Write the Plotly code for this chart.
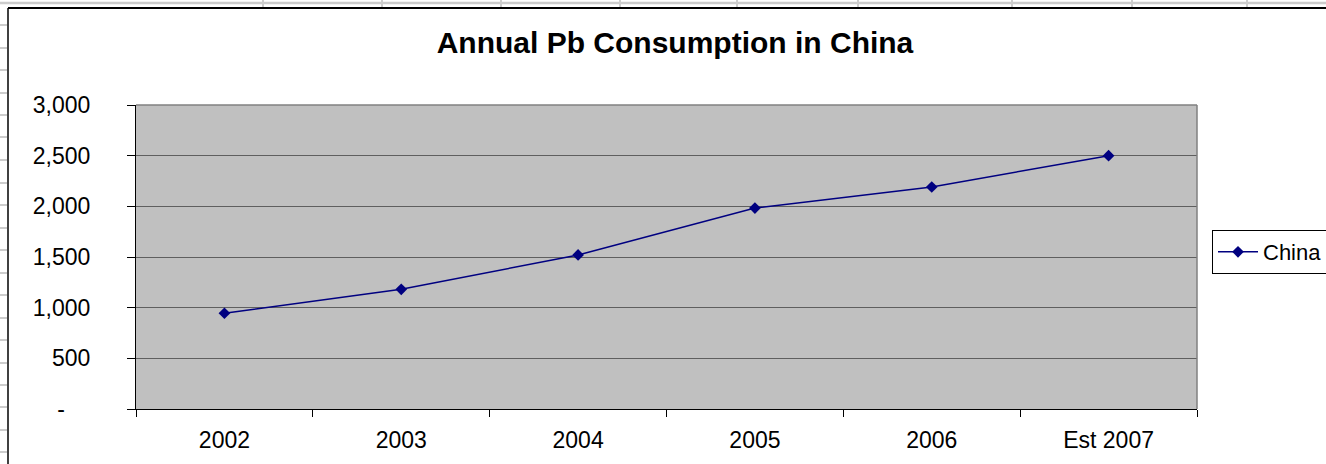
import plotly.graph_objects as go

# ---- data ----
years = ["2002", "2003", "2004", "2005", "2006", "Est 2007"]
china = [945, 1181, 1520, 1983, 2191, 2500]
y_tick_vals = [0, 500, 1000, 1500, 2000, 2500, 3000]
y_tick_text = ["-\u00a0\u00a0\u00a0\u00a0", "500", "1,000", "1,500", "2,000", "2,500", "3,000"]

W, H = 1326, 464
L, R, T, B = 136, 1197, 105, 409  # plot area in pixels


def px(x):
    return (x - L) / (R - L)


def py(y):
    return (B - y) / (B - T)


fig = go.Figure()
fig.add_trace(go.Scatter(
    x=years, y=china, mode="lines+markers", name="China",
    line=dict(color="#000080", width=1.5),
    marker=dict(symbol="diamond", size=9, color="#000080"),
))

shapes = []
grid_col = "#cccccc"
# spreadsheet grid (top strip)
shapes.append(dict(type="line", xref="paper", yref="paper",
                   x0=px(0), x1=px(W), y0=py(3), y1=py(3),
                   line=dict(color=grid_col, width=2.5)))
for xv in [263, 382, 501, 620, 737, 858, 1012, 1132, 1247]:
    shapes.append(dict(type="line", xref="paper", yref="paper",
                       x0=px(xv), x1=px(xv), y0=py(0), y1=py(7),
                       line=dict(color=grid_col, width=2)))
# spreadsheet grid (left strip)
for yv in [25, 48, 70, 93, 115, 137, 160, 183, 205, 228, 250, 273, 295,
           318, 340, 363, 385, 407, 430, 452]:
    shapes.append(dict(type="line", xref="paper", yref="paper",
                       x0=px(0), x1=px(7), y0=py(yv), y1=py(yv),
                       line=dict(color=grid_col, width=2)))
# chart area border
shapes.append(dict(type="line", xref="paper", yref="paper",
                   x0=px(8), x1=px(W), y0=py(8), y1=py(8),
                   line=dict(color="black", width=2)))
shapes.append(dict(type="line", xref="paper", yref="paper",
                   x0=px(8), x1=px(8), y0=py(8), y1=py(H),
                   line=dict(color="black", width=1.5)))
# plot area top/right border
shapes.append(dict(type="line", xref="paper", yref="paper",
                   x0=0, x1=1, y0=1, y1=1, line=dict(color="#808080", width=1.5)))
shapes.append(dict(type="line", xref="paper", yref="paper",
                   x0=1, x1=1, y0=0, y1=1, line=dict(color="#808080", width=1.5)))

fig.update_layout(
    width=W, height=H,
    margin=dict(l=L, r=W - R, t=T, b=H - B, autoexpand=False),
    paper_bgcolor="white", plot_bgcolor="#C0C0C0",
    font=dict(family="Liberation Sans, Arial, sans-serif", size=23, color="black"),
    title=dict(text="<b>Annual Pb Consumption in China</b>",
               xref="container", yref="container",
               x=675 / W, y=1 - 42 / H, xanchor="center", yanchor="middle",
               font=dict(size=30, color="black")),
    showlegend=True,
    legend=dict(x=px(1212), y=py(252), xanchor="left", yanchor="middle",
                bordercolor="black", borderwidth=1, bgcolor="white",
                font=dict(size=22), itemwidth=40,
                tracegroupgap=0),
    shapes=shapes,
    xaxis=dict(type="category", range=[-0.5, 5.5], tickson="boundaries",
               ticks="outside", ticklen=7, tickcolor="black", tickwidth=1,
               showline=True, linecolor="black", linewidth=1,
               showgrid=False, ticklabelstandoff=10, fixedrange=True),
    yaxis=dict(range=[0, 3000], tickvals=y_tick_vals, ticktext=y_tick_text,
               ticks="outside", ticklen=8, tickcolor="black", tickwidth=1,
               showline=True, linecolor="black", linewidth=1,
               showgrid=True, gridcolor="#5f5f5f", gridwidth=1,
               zeroline=False, ticklabelstandoff=32, fixedrange=True),
)

fig.write_html(
    "out.html",
    config={"displayModeBar": False},
    post_script="document.body.style.margin='0';document.body.style.overflow='hidden';",
)
